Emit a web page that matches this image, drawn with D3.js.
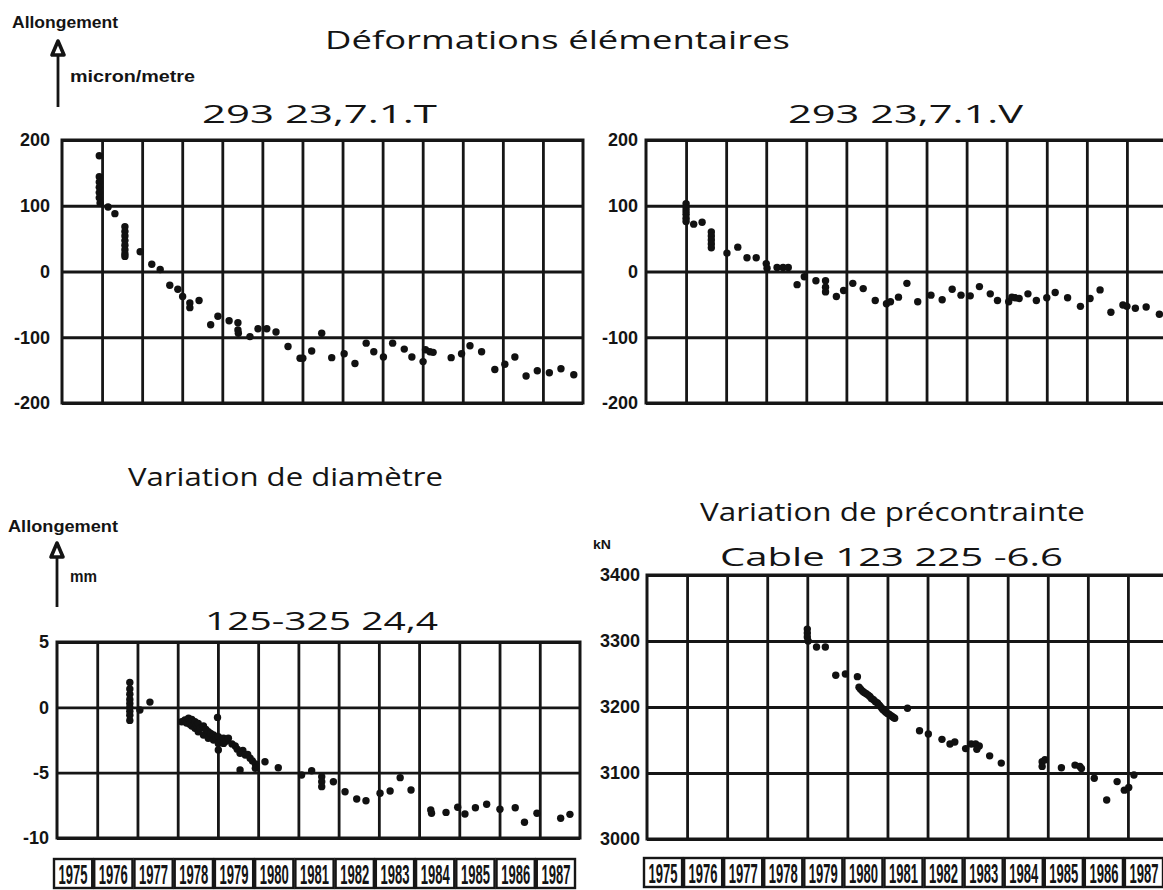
<!DOCTYPE html>
<html>
<head>
<meta charset="utf-8" />
<style>
  body { margin: 0; background: #fff; }
  svg text { fill: #141414; }
  .title { font-family: "Open Sans", "DejaVu Sans", sans-serif; font-size: 25px; }
  .unit { font-family: "Liberation Sans", Arial, sans-serif; font-weight: bold; font-size: 16px; }
  .tick text { font-family: "Liberation Sans", Arial, sans-serif; font-weight: bold; font-size: 18px; fill: #141414; }
  .grid line { stroke: #161616; stroke-width: 2.8; }
  .year text { font-family: "Liberation Sans", Arial, sans-serif; font-weight: bold; font-size: 15px; }
</style>
</head>
<body>
<svg width="1163" height="890"></svg>
<script src="https://cdn.jsdelivr.net/npm/d3@7"></script>
<script>
  // year columns shared by all four panels
  var years = d3.range(1975, 1988);

  var defTicks = [200, 100, 0, -100, -200];
  var diamTicks = [5, 0, -5, -10];
  var precTicks = [3400, 3300, 3200, 3100, 3000];

  // 293 23,7.1.T  [year, micron/metre]
  var defT = [
    [1975.93, 176], [1975.93, 144], [1975.93, 136], [1975.93, 128], [1975.93, 120], [1975.93, 112], [1975.95, 104],
    [1976.15, 98], [1976.32, 88],
    [1976.57, 68], [1976.57, 61], [1976.57, 54], [1976.57, 47], [1976.57, 40], [1976.57, 33], [1976.57, 27], [1976.57, 23],
    [1976.95, 30], [1977.24, 11], [1977.45, 3], [1977.69, -21], [1977.89, -27], [1978.01, -38],
    [1978.19, -48], [1978.19, -55], [1978.42, -44], [1978.71, -81], [1978.89, -68], [1979.17, -75],
    [1979.39, -78], [1979.39, -89], [1979.4, -94], [1979.69, -99], [1979.89, -87], [1980.11, -87],
    [1980.34, -92], [1980.64, -114], [1980.94, -132], [1981.01, -132], [1981.23, -121], [1981.48, -94],
    [1981.73, -131], [1982.04, -125], [1982.31, -140], [1982.59, -109], [1982.78, -122], [1983.02, -130],
    [1983.25, -109], [1983.54, -118], [1983.73, -130], [1984.01, -137], [1984.07, -119], [1984.18, -122],
    [1984.26, -123], [1984.71, -131], [1984.97, -125], [1985.18, -113], [1985.47, -122], [1985.8, -149],
    [1986.05, -141], [1986.3, -130], [1986.58, -159], [1986.86, -151], [1987.16, -154], [1987.45, -148],
    [1987.77, -157]
  ];

  // 293 23,7.1.V
  var defV = [
    [1976.0, 103], [1976.0, 97], [1976.0, 92], [1976.0, 87], [1976.0, 81], [1976.0, 76],
    [1976.19, 72], [1976.4, 75],
    [1976.63, 60], [1976.63, 54], [1976.63, 48], [1976.63, 42], [1976.63, 36],
    [1977.02, 28], [1977.29, 37], [1977.52, 21], [1977.75, 21], [1978.0, 12], [1978.02, 5],
    [1978.27, 6], [1978.42, 6], [1978.55, 6], [1978.77, -20], [1978.95, -8], [1979.24, -14],
    [1979.48, -14], [1979.48, -24], [1979.48, -31], [1979.75, -38], [1979.93, -29], [1980.16, -18],
    [1980.42, -26], [1980.72, -44], [1981.0, -49], [1981.1, -46], [1981.3, -39], [1981.51, -18],
    [1981.78, -46], [1982.11, -36], [1982.39, -43], [1982.64, -27], [1982.86, -36], [1983.09, -37],
    [1983.32, -23], [1983.59, -34], [1983.77, -44], [1984.05, -46], [1984.13, -39], [1984.21, -40],
    [1984.31, -41], [1984.53, -34], [1984.74, -44], [1985.0, -40], [1985.21, -32], [1985.52, -40],
    [1985.84, -53], [1986.08, -41], [1986.33, -28], [1986.6, -62], [1986.9, -51], [1987.0, -53],
    [1987.21, -56], [1987.48, -54], [1987.81, -65]
  ];

  // 125-325 24,4  [year, mm]
  var diam = [
    [1976.81, 1.9], [1976.81, 1.4], [1976.81, 1.0], [1976.81, 0.6], [1976.81, 0.3], [1976.81, 0],
    [1976.81, -0.3], [1976.81, -0.6], [1976.81, -1.0], [1977.06, -0.2], [1977.31, 0.4],
    [1978.1, -1.1], [1978.18, -0.97], [1978.22, -1.2], [1978.27, -0.84], [1978.3, -1.3], [1978.35, -0.92],
    [1978.35, -1.43], [1978.43, -1.1], [1978.43, -1.61], [1978.47, -1.4], [1978.51, -1.23], [1978.51, -1.87],
    [1978.56, -1.6], [1978.64, -1.43], [1978.64, -2.12], [1978.7, -1.7], [1978.76, -1.87], [1978.76, -2.37],
    [1978.82, -2.0], [1978.89, -2.12], [1978.89, -2.5], [1978.95, -2.3], [1978.99, -0.77], [1979.01, -2.25],
    [1979.01, -2.76], [1979.01, -3.27], [1979.08, -2.5], [1979.14, -2.37], [1979.14, -2.76], [1979.2, -2.6],
    [1979.26, -2.37], [1979.35, -2.8], [1979.43, -2.96], [1979.48, -3.2], [1979.55, -3.52], [1979.55, -4.8],
    [1979.62, -3.3], [1979.68, -3.65], [1979.74, -3.6], [1979.8, -3.9], [1979.86, -4.1], [1979.93, -4.34],
    [1979.93, -4.67], [1980.17, -4.16], [1980.5, -4.62],
    [1981.08, -5.18], [1981.33, -4.85], [1981.58, -5.31], [1981.58, -5.69], [1981.58, -6.07], [1981.87, -5.69],
    [1982.16, -6.46], [1982.45, -7.02], [1982.68, -7.15], [1983.03, -6.58], [1983.28, -6.4], [1983.53, -5.38],
    [1983.8, -6.33], [1984.29, -7.86], [1984.31, -8.11], [1984.67, -8.04], [1984.96, -7.65], [1985.14, -8.16],
    [1985.4, -7.68], [1985.68, -7.42], [1986.01, -7.8], [1986.39, -7.68], [1986.62, -8.8], [1986.93, -8.11],
    [1987.52, -8.49], [1987.75, -8.19]
  ];

  // Cable 123 225 -6.6  [year, kN]
  var prec = [
    [1979.0, 3318], [1979.0, 3312], [1979.0, 3306], [1979.02, 3300], [1979.23, 3291], [1979.45, 3291],
    [1979.71, 3248], [1979.95, 3250], [1980.25, 3246],
    [1980.29, 3230], [1980.33, 3227], [1980.38, 3224], [1980.42, 3222], [1980.47, 3220], [1980.52, 3218],
    [1980.56, 3216], [1980.6, 3213], [1980.65, 3211], [1980.7, 3208], [1980.75, 3206], [1980.79, 3203],
    [1980.82, 3201], [1980.86, 3198], [1980.89, 3196], [1980.93, 3194], [1980.96, 3192], [1981.0, 3190],
    [1981.04, 3189], [1981.08, 3187], [1981.11, 3186], [1981.15, 3184], [1981.18, 3183],
    [1981.5, 3198], [1981.8, 3164], [1982.02, 3159], [1982.36, 3151], [1982.56, 3144], [1982.68, 3147],
    [1982.95, 3137], [1983.09, 3144], [1983.2, 3144], [1983.29, 3141], [1983.23, 3136], [1983.55, 3126],
    [1983.84, 3115], [1984.86, 3117], [1984.86, 3110], [1984.93, 3120], [1985.34, 3108], [1985.68, 3112],
    [1985.8, 3110], [1985.84, 3107], [1986.16, 3092], [1986.47, 3059], [1986.73, 3087], [1986.91, 3074],
    [1987.02, 3078], [1987.15, 3097]
  ];

  var svg = d3.select("svg");

  function panel(p) {
    var x = d3.scaleLinear().domain([1975, 1988]).range([p.left, p.right]);
    var y = d3.scaleLinear().domain(d3.extent(p.ticks)).range([p.bottom, p.top]);
    var g = svg.append("g");

    // vertical year lines
    g.append("g")
      .attr("class", "grid")
      .attr("transform", "translate(0," + p.bottom + ")")
      .call(d3.axisBottom(x).tickValues(d3.range(1976, 1988)).tickSize(-(p.bottom - p.top)).tickFormat(""))
      .call(function(s) { s.select(".domain").remove(); });

    // horizontal value lines + labels (plain hyphen, no thousands comma)
    g.append("g")
      .attr("class", "grid")
      .attr("transform", "translate(" + p.left + ",0)")
      .call(d3.axisLeft(y).tickValues(p.ticks).tickSize(-(p.right - p.left)).tickPadding(p.pad)
        .tickFormat(function(d) { return String(d); }))
      .call(function(s) { s.select(".domain").remove(); });

    g.append("rect")
      .attr("x", p.left).attr("y", p.top)
      .attr("width", p.right - p.left).attr("height", p.bottom - p.top)
      .attr("fill", "none").attr("stroke", "#161616").attr("stroke-width", 3);

    g.append("g").selectAll("circle")
      .data(p.data)
      .enter().append("circle")
      .attr("cx", function(d) { return x(d[0]); })
      .attr("cy", function(d) { return y(d[1]); })
      .attr("r", 3.7)
      .attr("fill", "#111");

    if (p.yearTop) {
      var colW = x(1976) - x(1975);
      var yr = g.append("g").attr("class", "year").selectAll("g")
        .data(years).enter().append("g");
      yr.append("rect")
        .attr("x", function(d) { return x(d) - 3; })
        .attr("y", p.yearTop)
        .attr("width", colW - 2)
        .attr("height", 29)
        .attr("fill", "none").attr("stroke", "#161616").attr("stroke-width", 2.4);
      // tall condensed digits: small font stretched vertically
      yr.append("text")
        .attr("transform", function(d) {
          return "translate(" + (x(d) - 3 + (colW - 2) / 2) + "," + (p.yearTop + 25) + ") scale(1,1.9)";
        })
        .attr("text-anchor", "middle")
        .attr("textLength", 29)
        .attr("lengthAdjust", "spacingAndGlyphs")
        .text(function(d) { return String(d); });
    }
  }

  panel({ left: 62, right: 583, top: 140, bottom: 403, ticks: defTicks, data: defT, pad: 12 });
  panel({ left: 646, right: 1167, top: 140, bottom: 403, ticks: defTicks, data: defV, pad: 8 });
  panel({ left: 57, right: 580, top: 642, bottom: 838, ticks: diamTicks, data: diam, pad: 8, yearTop: 859 });
  panel({ left: 647, right: 1168, top: 575, bottom: 839, ticks: precTicks, data: prec, pad: 7, yearTop: 858 });

  function text(cls, x, y, s, len) {
    var t = svg.append("text").attr("class", cls).attr("x", x).attr("y", y).text(s);
    if (len) t.attr("textLength", len).attr("lengthAdjust", "spacingAndGlyphs");
    return t;
  }

  text("title", 325, 49, "Déformations  élémentaires", 465);
  text("title", 202, 123, "293 23,7.1.T", 235);
  text("title", 788, 123, "293 23,7.1.V", 235);
  text("title", 128, 486, "Variation de diamètre", 315);
  text("title", 700, 521, "Variation de précontrainte", 385);
  text("title", 205, 630, "125-325 24,4", 233);
  text("title", 720, 566, "Cable 123 225 -6.6", 343);

  text("unit", 12, 28, "Allongement", 106).style("font-size", "17px");
  text("unit", 70, 82, "micron/metre", 125);
  text("unit", 8, 532, "Allongement", 110).style("font-size", "17px");
  text("unit", 70, 582, "mm", 27);
  text("unit", 593, 549, "kN", 18).style("font-size", "13px");

  // unit arrows
  function arrow(x, y0, y1) {
    svg.append("line").attr("x1", x).attr("x2", x).attr("y1", y0).attr("y2", y1 + 10)
      .attr("stroke", "#141414").attr("stroke-width", 2.8);
    svg.append("path")
      .attr("d", "M" + x + "," + y1 + " L" + (x - 6) + "," + (y1 + 14) + " L" + (x + 6) + "," + (y1 + 14) + " Z")
      .attr("fill", "#fff").attr("stroke", "#141414").attr("stroke-width", 3.6).attr("stroke-linejoin", "round");
  }
  arrow(58, 107, 41);
  arrow(57, 607, 543);
</script>
</body>
</html>
